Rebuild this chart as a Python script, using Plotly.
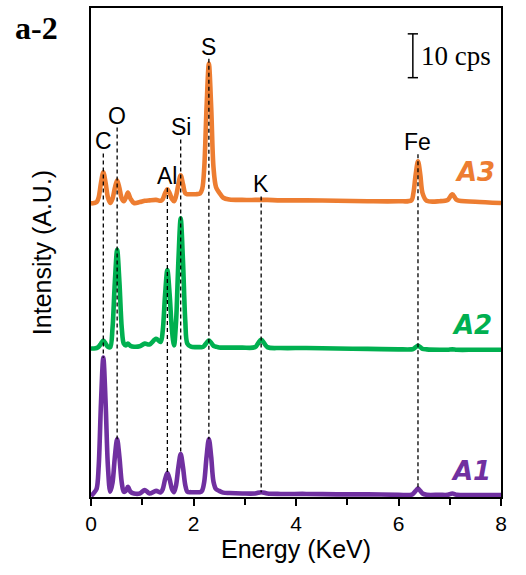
import numpy as np
import plotly.graph_objects as go

# ---------------- data ----------------
energy = [0.00, 0.06, 0.11, 0.15, 0.195, 0.24, 0.285, 0.33, 0.375, 0.42, 0.465, 0.51, 0.555, 0.60,
          0.64, 0.68, 0.72, 0.77, 0.84, 0.95, 1.05, 1.14, 1.27, 1.36, 1.40, 1.445, 1.49, 1.535,
          1.58, 1.62, 1.66, 1.705, 1.75, 1.795, 1.84, 1.88, 1.95, 2.05, 2.13, 2.17, 2.21, 2.255,
          2.30, 2.345, 2.39, 2.44, 2.50, 2.58, 2.70, 2.95, 3.20, 3.32, 3.44, 3.70, 4.20, 4.80,
          5.40, 6.00, 6.25, 6.29, 6.335, 6.38, 6.425, 6.47, 6.55, 6.80, 6.96, 7.05, 7.14, 7.50, 8.00]

a1 = [0.2, 1.0, 1.9, 7.0, 21.5, 31.8, 21.5, 7.0, 1.2, 3.3, 9.1, 13.2, 9.1, 3.3,
      1.2, 1.4, 2.3, 1.2, 0.8, 0.8, 1.6, 0.8, 1.4, 1.05, 1.8, 4.0, 5.5, 4.0,
      1.8, 1.1, 2.7, 6.8, 9.8, 6.8, 2.7, 1.2, 1.1, 1.1, 1.1, 1.5, 3.5, 9.2,
      13.2, 9.2, 3.5, 1.8, 1.4, 1.0, 0.9, 0.8, 0.8, 1.1, 0.8, 0.7, 0.7, 0.6,
      0.6, 0.5, 0.5, 0.8, 1.4, 1.9, 1.4, 0.8, 0.5, 0.5, 0.5, 0.8, 0.5, 0.45, 0.45]

a2 = [0.9, 0.9, 1.0, 1.3, 2.0, 2.7, 2.0, 1.3, 1.2, 5.6, 16.0, 23.4, 16.0, 5.6,
      2.0, 1.6, 2.0, 1.5, 1.3, 1.4, 2.0, 1.8, 3.1, 2.4, 5.0, 13.1, 18.8, 13.1,
      5.0, 1.6, 7.1, 20.8, 30.6, 20.8, 7.1, 2.0, 1.3, 1.2, 1.2, 1.2, 1.5, 2.2,
      2.7, 2.2, 1.5, 1.3, 1.1, 1.1, 1.1, 1.1, 1.2, 2.9, 1.2, 1.0, 1.0, 0.9,
      0.8, 0.7, 0.7, 0.8, 1.2, 1.5, 1.2, 0.8, 0.7, 0.6, 0.6, 0.7, 0.6, 0.6, 0.6]

a3 = [0.5, 0.6, 0.8, 1.9, 5.2, 7.6, 5.2, 1.9, 0.6, 1.6, 4.0, 5.8, 4.0, 1.6,
      1.0, 1.8, 3.0, 1.6, 0.6, 0.8, 1.1, 1.2, 1.3, 1.1, 1.5, 2.8, 3.7, 2.8,
      1.5, 1.0, 2.2, 4.9, 6.9, 4.9, 2.8, 2.6, 2.6, 2.6, 2.8, 3.8, 8.7, 22.5,
      32.4, 22.5, 8.7, 4.2, 3.0, 1.8, 1.4, 1.3, 1.3, 1.3, 1.3, 1.2, 1.2, 1.1,
      1.0, 1.0, 1.2, 2.8, 7.1, 10.1, 7.1, 2.8, 1.1, 1.0, 1.3, 2.6, 1.3, 0.9, 0.6]

series_names = ["A1", "A2", "A3"]
series_values = [a1, a2, a3]

elements = ["C", "O", "Al", "Si", "S", "K", "Fe"]
element_energy = [0.24, 0.51, 1.49, 1.75, 2.30, 3.32, 6.38]

x_tick_values = [0, 2, 4, 6, 8]
scale_bar_cps = 10

# ---------------- styling / layout ----------------
colors = {"A1": "#7030A0", "A2": "#00B050", "A3": "#ED7D31"}
offsets = {"A1": 0.0, "A2": 33.0, "A3": 66.5}          # vertical stacking (cps)
label_tops = [78.4, 84.3, 70.5, 81.6, 100.0, 68.6, 78.2]  # top of dashed marker lines (cps)

W, H = 526, 575
L, R, T, B = 91, 501, 6, 497
Y_MAX = 111.6

def px(x):
    return (x - L) / (R - L)

def py(y):
    return (B - y) / (B - T)

fig = go.Figure()

# dashed element marker lines (from label down to the A1 spectrum)
dx, dy = [], []
for e, top in zip(element_energy, label_tops):
    bottom = float(np.interp(e, energy, a1)) + offsets["A1"]
    dx += [e, e, None]
    dy += [top, bottom, None]

for name, vals in zip(series_names, series_values):
    fig.add_trace(go.Scatter(
        x=energy, y=[v + offsets[name] for v in vals], mode="lines", name=name,
        line=dict(color=colors[name], width=4.6, shape="spline", smoothing=0.9),
        showlegend=False, hoverinfo="skip"))

fig.add_trace(go.Scatter(x=dx, y=dy, mode="lines",
                         line=dict(color="black", width=1.3, dash="4px,3px"),
                         showlegend=False, hoverinfo="skip"))

# scale bar
sx, sbot = 6.28, 95.7
stop = sbot + scale_bar_cps
cap = 0.1
fig.add_trace(go.Scatter(
    x=[sx - cap, sx + cap, None, sx, sx, None, sx - cap, sx + cap],
    y=[stop, stop, None, stop, sbot, None, sbot, sbot],
    mode="lines", line=dict(color="black", width=1.5), showlegend=False, hoverinfo="skip"))

annotations = []
for el, e, top in zip(elements, element_energy, label_tops):
    annotations.append(dict(x=e, y=top, xref="x", yref="y", text=el, showarrow=False,
                            xanchor="center", yanchor="bottom", yshift=-3,
                            font=dict(family="Liberation Sans", size=23, color="black")))

annotations.append(dict(x=sx + 0.12, y=sbot + scale_bar_cps / 2, xref="x", yref="y",
                        text=f"{scale_bar_cps} cps", showarrow=False, xanchor="left",
                        yanchor="middle", font=dict(family="Liberation Serif", size=27, color="black")))

series_label_pos = {"A3": (475, 171), "A2": (472, 324), "A1": (471, 471)}
for name in series_names:
    cx, cy = series_label_pos[name]
    annotations.append(dict(x=px(cx), y=py(cy), xref="paper", yref="paper", text=name,
                            showarrow=False, xanchor="center", yanchor="middle",
                            font=dict(family="DejaVu Sans", size=26, color=colors[name],
                                      weight="bold", style="italic")))

annotations.append(dict(x=px(13), y=py(26), xref="paper", yref="paper", text="a-2",
                        showarrow=False, xanchor="left", yanchor="middle",
                        font=dict(family="Liberation Serif", size=32, color="black", weight="bold")))

fig.update_layout(
    width=W, height=H,
    margin=dict(l=L, r=W - R, t=T, b=H - B, pad=0),
    plot_bgcolor="white", paper_bgcolor="white",
    annotations=annotations,
    xaxis=dict(range=[0, 8], tickvals=x_tick_values, ticks="outside", ticklen=7, tickwidth=1.5,
               tickcolor="black", showline=True, linecolor="black", linewidth=1.5, mirror=True,
               showgrid=False, zeroline=False,
               minor=dict(dtick=1, ticks="outside", ticklen=6, tickwidth=1.5, tickcolor="black", showgrid=False),
               tickfont=dict(family="Liberation Sans", size=21, color="black"),
               title=dict(text="Energy (KeV)", standoff=7,
                          font=dict(family="Liberation Sans", size=25, color="black"))),
    yaxis=dict(range=[0, Y_MAX], showticklabels=False, ticks="", showline=True, linecolor="black",
               linewidth=1.5, mirror=True, showgrid=False, zeroline=False,
               title=dict(text="Intensity (A.U.)", standoff=31,
                          font=dict(family="Liberation Sans", size=25, color="black"))),
)

fig.write_html("out.html", config={"displayModeBar": False},
               post_script="document.body.style.margin='0';")
